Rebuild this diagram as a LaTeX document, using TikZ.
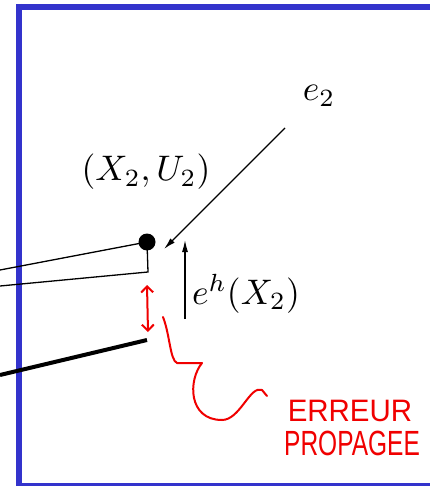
\documentclass[tikz,border=0pt]{standalone}
\usepackage{fontspec}
\newfontfamily\handfont{Liberation Sans}
\usetikzlibrary{arrows.meta}
\definecolor{frameblue}{RGB}{51,51,204}
\definecolor{penred}{RGB}{240,0,0}
\newcommand{\bigmath}[1]{\scalebox{3.55}{$#1$}}
\tikzset{
  frame/.style={frameblue, line width=6pt},
  thinline/.style={black, line width=1.3pt},
  thickline/.style={black, line width=4pt},
  vec/.style={black, line width=1.3pt, -{Latex[length=12pt,width=6pt]}},
  pen/.style={penred, line width=2pt, line cap=round, line join=round},
  mathlabel/.style={inner sep=0pt},
  handtext/.style={penred, inner sep=0pt}
}
\begin{document}
\begin{tikzpicture}[x=1pt, y=-1pt]
\useasboundingbox (0,0) rectangle (430,486);
% blue frame
\draw[frame] (16,7) -- (430,7);
\draw[frame] (19,4) -- (19,486);
\draw[frameblue, line width=3pt] (16,484.5) -- (430,484.5);
% point
\node[circle, fill=black, minimum size=17pt, inner sep=0pt] (dot) at (147,242) {};
% free ends
\coordinate (l1) at (0,270);
\coordinate (l2) at (0,286);
\coordinate (corner) at (148,272);
\coordinate (t1) at (0,375);
\coordinate (t2) at (147,340);
\coordinate (e2s) at (285,128);
\coordinate (e2t) at (164,249);
\coordinate (ehs) at (185,319);
\coordinate (eht) at (185,240);
% lines
\draw[thinline] (l1) -- (dot.center);
\draw[thinline] (l2) -- (corner) -- (dot.center);
\draw[thickline] (t1) -- (t2);
% vectors
\draw[vec] (e2s) -- (e2t);
\draw[vec] (ehs) -- (eht);
% labels
\node[mathlabel] (le2) at (319,96) {\bigmath{e_2}};
\node[mathlabel] (lxu) at (146,172) {\bigmath{(X_2,U_2)}};
\node[mathlabel] (leh) at (246,294) {\bigmath{e^h(X_2)}};
% red annotation
\coordinate (ra) at (147,285);
\coordinate (rb) at (148,332);
\draw[pen, {Straight Barb[length=6pt,width=12pt]}-{Straight Barb[length=6pt,width=12pt]}] (ra) -- (rb);
\coordinate (s0) at (163,317);
\draw[pen] (s0) .. controls (170,335) and (170,360) .. (177,363) -- (202,363)
  .. controls (188,380) and (188,420) .. (222,420)
  .. controls (240,420) and (250,385) .. (262,390) -- (267,396);
\node[handtext, font=\handfont\fontsize{31}{34}\selectfont, xscale=0.95] (t1txt) at (350,411) {ERREUR};
\node[handtext, font=\handfont\fontsize{35}{38}\selectfont, xscale=0.70] (t2txt) at (352,443) {PROPAGEE};
\end{tikzpicture}
\end{document}
